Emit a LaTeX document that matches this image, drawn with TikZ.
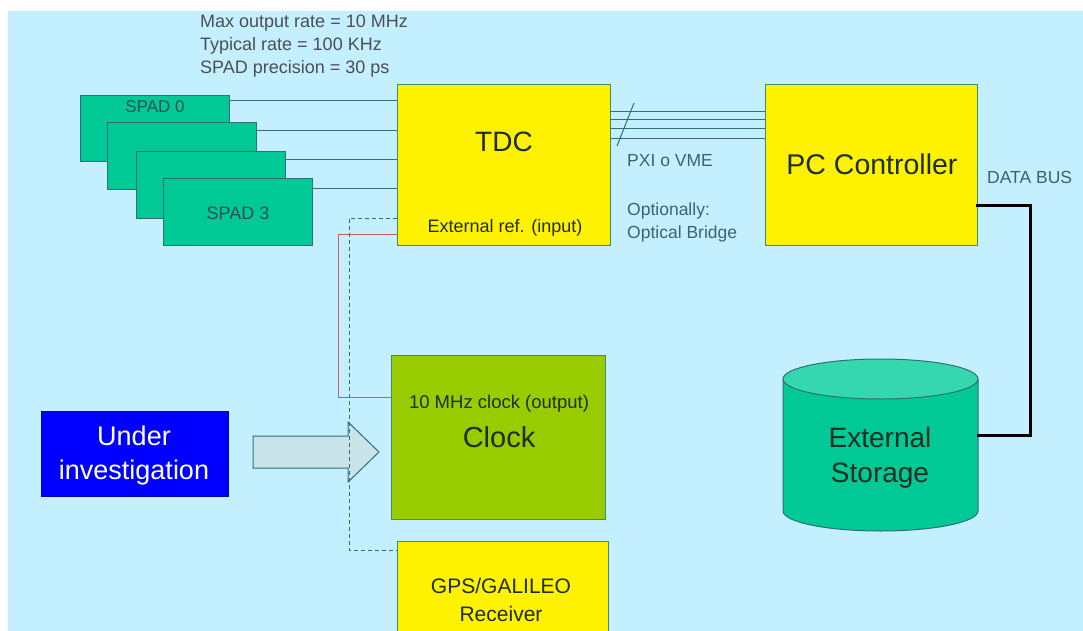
\documentclass[tikz,border=0pt]{standalone}
\usepackage{fontspec}
\setmainfont{Liberation Sans}
\usetikzlibrary{calc}
\definecolor{bgblue}{HTML}{C4EFFF}
\definecolor{spadgreen}{HTML}{00C996}
\definecolor{stortop}{HTML}{35D8AE}
\definecolor{clockgreen}{HTML}{99CC00}
\definecolor{linecol}{HTML}{2F6F78}
\definecolor{boxedge}{HTML}{3C8C70}
\definecolor{txtdark}{HTML}{1E2E22}
\definecolor{txtgray}{HTML}{4A4F55}
\definecolor{txtteal}{HTML}{3F6270}
\definecolor{arrowfill}{HTML}{C9E4E8}
\definecolor{clockline}{HTML}{C85A6A}
\newcommand{\fs}[1]{\fontsize{#1}{#1}\selectfont}
\tikzset{
  blockbox/.style={draw=boxedge, line width=1pt, inner sep=0pt, outer sep=0pt, anchor=north west},
  spadbox/.style={blockbox, fill=spadgreen, draw=linecol, minimum width=149pt, minimum height=66pt},
  yelbox/.style={blockbox, fill=yellow},
  lbl/.style={inner sep=0pt, anchor=base, text=txtdark},
  conn/.style={draw=linecol, line width=1pt},
}
\begin{document}
\begin{tikzpicture}[x=1pt, y=-1pt]
\useasboundingbox (0,0) rectangle (1083,631);
\clip (0,0) rectangle (1083,631);
\fill[bgblue] (8,11) rectangle (1083,631);

% top notes
\node[lbl, anchor=base west, text=txtgray] (n1) at (200,28) {\fs{18}Max output rate = 10 MHz};
\node[lbl, anchor=base west, text=txtgray] (n2) at (200,51) {\fs{18}Typical rate = 100 KHz};
\node[lbl, anchor=base west, text=txtgray] (n3) at (200,74) {\fs{18}SPAD precision = 30 ps};

% SPADs
\node[spadbox] (spad0) at (80,96) {};
\node[spadbox] (spad1) at (107,123) {};
\node[spadbox] (spad2) at (136,152) {};
\node[spadbox] (spad3) at (163,179) {};
\node[lbl, text=txtteal!80!black] (s0t) at (155,113) {\fs{17}SPAD 0};
\node[lbl, text=txtteal!80!black] (s3t) at (238,219) {\fs{18}SPAD 3};

% TDC
\node[yelbox, minimum width=213pt, minimum height=160pt] (tdc) at (397,85) {};
\node[lbl] (tdct) at (504,152) {\fs{28}TDC};
\node[lbl] (tdcref) at (505,232) {\fs{18}External ref. (input)};

\draw[conn] ([yshift=-5pt]spad0.north east) -- ([yshift=-5pt]spad0.north east -| tdc.west);
\draw[conn] ([yshift=-8pt]spad1.north east) -- ([yshift=-8pt]spad1.north east -| tdc.west);
\draw[conn] ([yshift=-8pt]spad2.north east) -- ([yshift=-8pt]spad2.north east -| tdc.west);
\draw[conn] ([yshift=-9pt]spad3.north east) -- ([yshift=-9pt]spad3.north east -| tdc.west);

% PC controller
\node[yelbox, minimum width=212pt, minimum height=160pt] (pc) at (765,85) {};
\node[lbl] (pct) at (872,175) {\fs{28.5}PC Controller};

% bus
\draw[conn] ([yshift=-27pt]tdc.north east) -- ([yshift=-27pt]pc.north west);
\draw[conn] ([yshift=-35pt]tdc.north east) -- ([yshift=-35pt]pc.north west);
\draw[conn] ([yshift=-44pt]tdc.north east) -- ([yshift=-44pt]pc.north west);
\draw[conn] ([yshift=-54pt]tdc.north east) -- ([yshift=-54pt]pc.north west);
\draw[conn] (617,146) -- (634,103);
\node[lbl, anchor=base west, text=txtteal] (pxi) at (627,167) {\fs{17.5}PXI o VME};
\node[lbl, anchor=base west, text=txtteal] (opt1) at (627,215) {\fs{17.5}Optionally:};
\node[lbl, anchor=base west, text=txtteal] (opt2) at (627,238) {\fs{17.5}Optical Bridge};

% data bus label
\node[lbl, anchor=base west, text=txtteal] (dbus) at (987,183) {\fs{17.5}DATA BUS};

% storage cylinder
\fill[spadgreen] (783,379) -- (783,511) arc[start angle=180, end angle=0, x radius=97.5, y radius=20] -- (978,379) -- cycle;
\draw[linecol, line width=1pt] (783,379) -- (783,511) arc[start angle=180, end angle=0, x radius=97.5, y radius=20] -- (978,379);
\draw[linecol, line width=1pt, fill=stortop] (880.5,379) ellipse[x radius=97.5, y radius=20];
\coordinate (stor) at (978,435);
\node[lbl] (st1) at (880,447) {\fs{28}External};
\node[lbl] (st2) at (880,482) {\fs{28}Storage};

\draw[line width=3pt, line cap=rect] ([yshift=-40pt]pc.east) -| (1030,435) -- (stor);

% clock
\node[blockbox, fill=clockgreen, minimum width=214pt, minimum height=164pt] (clock) at (391,355) {};
\node[lbl] (clk1) at (499,408) {\fs{18.5}10 MHz clock (output)};
\node[lbl] (clk2) at (499,447) {\fs{29}Clock};

% GPS
\node[yelbox, minimum width=211pt, minimum height=110pt] (gps) at (397,541) {};
\node[lbl] (gps1) at (501,593) {\fs{21}GPS/GALILEO};
\node[lbl] (gps2) at (501,621) {\fs{21}Receiver};

% under investigation
\node[blockbox, fill=blue, draw=blue!70!black, minimum width=187pt, minimum height=85pt] (under) at (41,411) {};
\node[lbl, text=white] (u1) at (134,445) {\fs{27}Under};
\node[lbl, text=white] (u2) at (134,479) {\fs{27}investigation};

% big arrow
\draw[linecol, line width=1pt, fill=arrowfill] (253,436) -- (348,436) -- (348,422) -- (379,452) -- (348,482) -- (348,468) -- (253,468) -- cycle;

% clock to TDC
\draw[clockline, line width=1pt] ([yshift=11pt]tdc.south west) -- ++(-59,0) |- ([yshift=-42pt]clock.north west);
% GPS to TDC (dashed)
\draw[conn, dashed, dash pattern=on 4pt off 3pt] ([yshift=27pt]tdc.south west) -- ++(-48,0) |- ([yshift=-9pt]gps.north west);
\end{tikzpicture}
\end{document}
